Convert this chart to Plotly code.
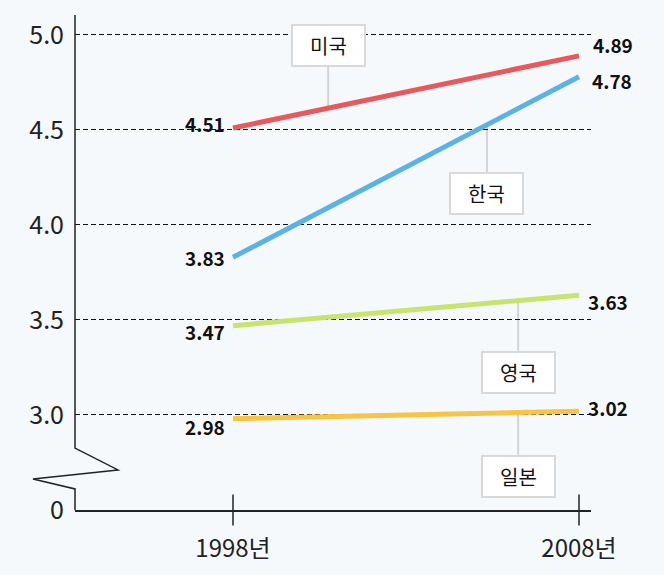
import plotly.graph_objects as go
import numpy as np

# ---- data ----
years = [1998, 2008]
countries = ["미국", "한국", "영국", "일본"]
usa = [4.51, 4.89]
korea = [3.83, 4.78]
uk = [3.47, 3.63]
japan = [2.98, 3.02]
x_tick_labels = ["1998년", "2008년"]
y_tick_vals = [2.5, 3.0, 3.5, 4.0, 4.5, 5.0]
y_tick_labels = ["0", "3.0", "3.5", "4.0", "4.5", "5.0"]

series = [usa, korea, uk, japan]
colors = ["#e9585b", "#5bb2e5", "#c9e36f", "#f8c446"]

# styling / placement (not data)
label_box_pos = [(2000.75, 4.942), (2005.34, 4.168), (2006.24, 3.226), (2006.24, 2.674)]
left_yshift = [5, 0, -6, -8]
right_yshift = [11, -4, -6, 4]
right_xshift = [12, 11, 7, 7]

FONT = "Noto Sans CJK KR"
BG = "#f6f9fb"

fig = go.Figure()

# connectors from lines to labels
shapes = []
for vals, (bx, by) in zip(series, label_box_pos):
    ly = float(np.interp(bx, years, vals))
    shapes.append(dict(type="line", xref="x", yref="y", x0=bx, x1=bx, y0=ly, y1=by,
                       line=dict(color="#d4d4d4", width=2), layer="below"))

for name, vals, c in zip(countries, series, colors):
    fig.add_trace(go.Scatter(x=years, y=vals, mode="lines", name=name,
                             line=dict(color=c, width=5), cliponaxis=False,
                             hoverinfo="skip", showlegend=False))

# crossing tick marks on x axis
fig.add_trace(go.Scatter(x=years, y=[2.5, 2.5], mode="markers", cliponaxis=False,
                         marker=dict(symbol="line-ns-open", size=22, color="#222",
                                     line=dict(color="#222", width=1.5)),
                         hoverinfo="skip", showlegend=False))

annotations = []
for i, (name, vals) in enumerate(zip(countries, series)):
    annotations.append(dict(x=years[0], y=vals[0], xref="x", yref="y", text=f"{vals[0]:.2f}",
                            showarrow=False, xanchor="right", yanchor="middle", xshift=-6,
                            yshift=left_yshift[i],
                            font=dict(family=FONT, size=19, color="#111", weight="bold")))
    annotations.append(dict(x=years[1], y=vals[1], xref="x", yref="y", text=f"{vals[1]:.2f}",
                            showarrow=False, xanchor="left", yanchor="middle",
                            xshift=right_xshift[i], yshift=right_yshift[i],
                            font=dict(family=FONT, size=19, color="#111", weight="bold")))
    bx, by = label_box_pos[i]
    annotations.append(dict(x=bx, y=by, xref="x", yref="y", text=name, showarrow=False,
                            xanchor="center", yanchor="middle", width=67, height=35,
                            bgcolor="white", bordercolor="#d9d9d9", borderwidth=2, borderpad=2,
                            font=dict(family=FONT, size=20, color="#111")))

# broken y axis line (paper x, data y)
ax_path = ("M 0,5.105 L 0,2.826 L 0.0833,2.711 L -0.0814,2.663 "
           "L 0,2.611 L 0,2.5")
shapes.append(dict(type="path", xref="paper", yref="y", path=ax_path,
                   line=dict(color="#222", width=1.5)))

px_per_year = (579 - 233) / 10.0
x_lo = 1998 - (233 - 75) / px_per_year
x_hi = 2008 + (591 - 579) / px_per_year

fig.update_layout(
    width=664, height=575,
    margin=dict(l=75, r=73, t=15, b=65),
    paper_bgcolor=BG, plot_bgcolor=BG,
    shapes=shapes, annotations=annotations,
    hovermode=False,
    xaxis=dict(range=[x_lo, x_hi], tickvals=years, ticktext=x_tick_labels,
               showgrid=False, zeroline=False, showline=True, linecolor="#222", linewidth=1.5,
               ticks="", ticklabelstandoff=16,
               tickfont=dict(family=FONT, size=24, color="#222")),
    yaxis=dict(range=[2.5, 5.105], tickvals=y_tick_vals, ticktext=y_tick_labels,
               showgrid=True, gridcolor="#111", gridwidth=1, griddash="5px,3px",
               zeroline=False, showline=False, ticks="", ticklabelstandoff=10,
               tickfont=dict(family=FONT, size=25, color="#222")),
)

fig.write_html("out.html", config={"displayModeBar": False},
               post_script="document.body.style.margin='0';document.body.style.overflow='hidden';"
                           "document.body.style.background='" + BG + "';")
